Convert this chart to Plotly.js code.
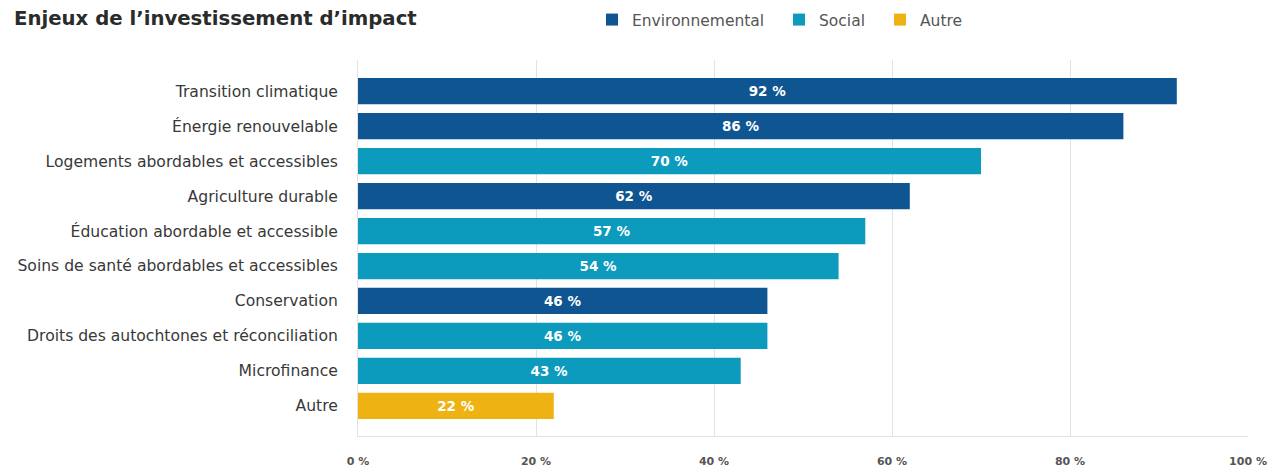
<!DOCTYPE html>
<html>
<head>
<meta charset="utf-8">
<script src="https://cdn.plot.ly/plotly-3.0.1.min.js"></script>
<style>html,body{margin:0;padding:0;background:#fff}#chart{width:1268px;height:467px}</style>
</head>
<body>
<div id="chart"></div>
<script>
const categories = [
  "Transition climatique",
  "Énergie renouvelable",
  "Logements abordables et accessibles",
  "Agriculture durable",
  "Éducation abordable et accessible",
  "Soins de santé abordables et accessibles",
  "Conservation",
  "Droits des autochtones et réconciliation",
  "Microfinance",
  "Autre"
];
const values = [92, 86, 70, 62, 57, 54, 46, 46, 43, 22];
const groups = ["Environnemental","Environnemental","Social","Environnemental","Social","Social","Environnemental","Social","Social","Autre"];
const seriesNames = ["Environnemental", "Social", "Autre"];
const seriesColors = ["#0F5591", "#0C9ABD", "#EEB313"];
const xTicks = [0, 20, 40, 60, 80, 100];
const xTickLabels = ["0 %", "20 %", "40 %", "60 %", "80 %", "100 %"];

const FONT = "DejaVu Sans, Open Sans, sans-serif";
const legendIds = ["legend", "legend2", "legend3"];
const legendX = [592, 779, 880];

const traces = seriesNames.map((name, si) => {
  const ys = [], xs = [], txt = [];
  categories.forEach((c, i) => { if (groups[i] === name) { ys.push(c); xs.push(values[i]); txt.push(values[i] + " %"); } });
  return {
    type: "bar", orientation: "h", name: name, x: xs, y: ys, text: txt,
    legend: legendIds[si],
    marker: {color: seriesColors[si]},
    width: 0.75,
    texttemplate: "%{text}", textposition: "inside", insidetextanchor: "middle",
    textangle: 0,
    insidetextfont: {family: FONT, size: 13.5, color: "#ffffff", weight: 700},
    hoverinfo: "none", cliponaxis: false
  };
});

function legendCfg(i) {
  return {orientation: "h", xref: "container", yref: "container", x: legendX[i]/1268, xanchor: "left",
          y: 1 - 3/467, yanchor: "top", font: {family: FONT, size: 15.5, color: "#555555"},
          itemwidth: 30, bgcolor: "rgba(0,0,0,0)"};
}

const layout = {
  width: 1268, height: 467,
  margin: {l: 358, r: 20, t: 60, b: 31},
  paper_bgcolor: "#ffffff", plot_bgcolor: "#ffffff",
  barmode: "overlay",
  font: {family: FONT, color: "#444444"},
  title: {text: "Enjeux de l’investissement d’impact", x: 14/1268, xref: "container", xanchor: "left",
          y: 1, yref: "container", yanchor: "top", pad: {t: 11},
          font: {family: FONT, size: 19.7, color: "#2b2b2b", weight: 700}},
  showlegend: true,
  legend: legendCfg(0), legend2: legendCfg(1), legend3: legendCfg(2),
  xaxis: {range: [0, 100], tickmode: "array", tickvals: xTicks, ticktext: xTickLabels, showgrid: true, gridcolor: "#e2e2e2",
          zeroline: false, showline: true, linecolor: "#e2e2e2", linewidth: 1,
          ticks: "outside", ticklen: 15, tickcolor: "rgba(0,0,0,0)",
          tickfont: {family: FONT, size: 11, color: "#555555", weight: 700}, fixedrange: true},
  yaxis: {type: "category", categoryorder: "array", categoryarray: categories,
          range: [9.86, -0.89], showgrid: false, zeroline: false, showline: true, linecolor: "#e2e2e2",
          ticks: "outside", ticklen: 16, tickcolor: "rgba(0,0,0,0)",
          tickfont: {family: FONT, size: 15.6, color: "#383838"}, fixedrange: true}
};

Plotly.newPlot("chart", traces, layout, {displayModeBar: false, staticPlot: true});
</script>
</body>
</html>
